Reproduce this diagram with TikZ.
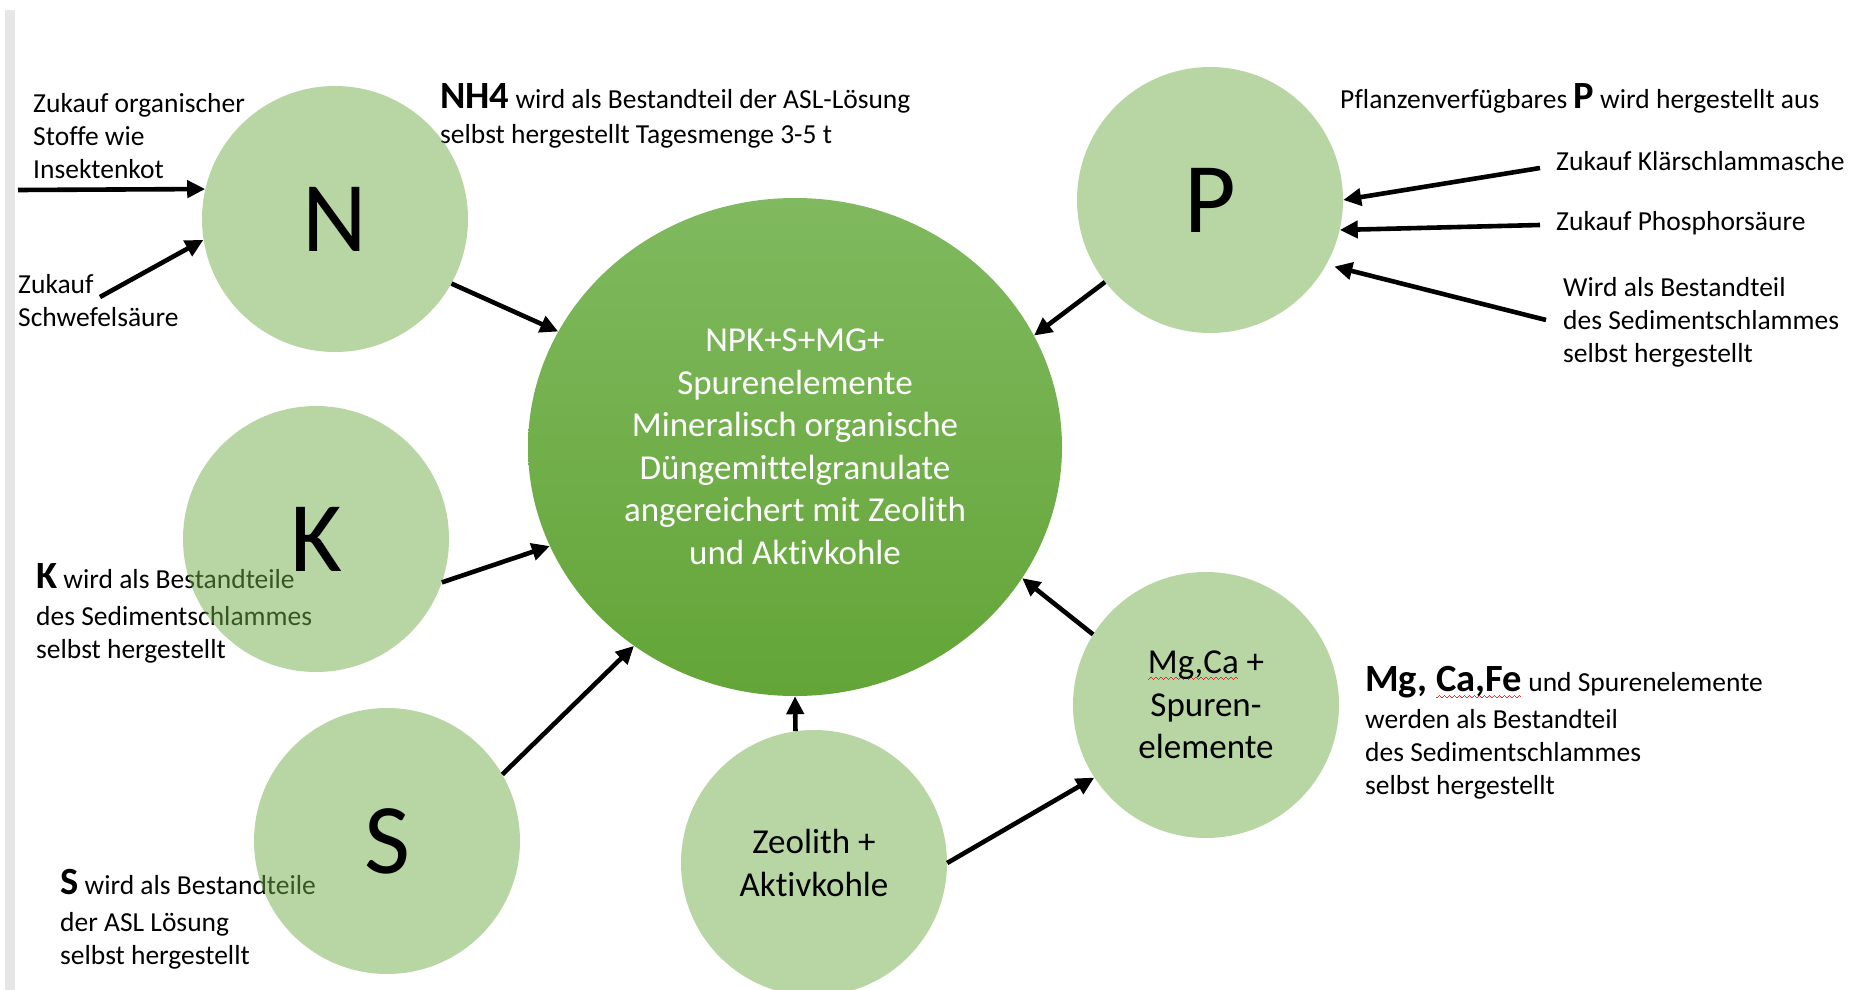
\documentclass[tikz,border=0pt]{standalone}
\usepackage{fontspec}
\setmainfont{Carlito}[Ligatures={NoCommon}]
\usetikzlibrary{arrows.meta,shapes.geometric}
\definecolor{cgreen}{HTML}{70AD47}
\definecolor{ctop}{HTML}{80B95F}
\definecolor{cbot}{HTML}{63A537}
\definecolor{cbar}{HTML}{E6E6E6}
\definecolor{cwave}{HTML}{E03030}
\newcommand\wavepiece{\rule[-6pt]{1.25pt}{1.1pt}\rule[-5pt]{1.25pt}{1.1pt}\rule[-4pt]{1.25pt}{1.1pt}\rule[-5pt]{1.25pt}{1.1pt}}
\newcommand\spellwave[1]{\setbox0\hbox{#1}\rlap{\smash{\color{cwave}\hbox to \wd0{\leaders\hbox{\wavepiece}\hfill}}}\box0\relax}
\newcommand\bigb[1]{{\fontsize{38.5}{44}\selectfont\bfseries #1}}
\begin{document}
\begin{tikzpicture}[x=1pt,y=-1pt,
  lbl/.style={font=\fontsize{27.5}{33}\selectfont, align=left, inner sep=0pt, anchor=west},
  smallc/.style={circle, minimum size=266pt, inner sep=0pt, fill=cgreen, fill opacity=0.5, text opacity=1},
  bigletter/.style={font=\fontsize{100}{100}\selectfont},
  ctext/.style={font=\fontsize{35}{42.5}\selectfont, align=center},
  arr/.style={line width=4.6pt, -{Triangle[length=18pt,width=17pt]}},
]
\useasboundingbox (0,0) rectangle (1858,990);
\fill[cbar] (5,10) rectangle (15,990);
% labels
\node[lbl] (tN1) at (33,136) {Zukauf organischer\\Stoffe wie\\Insektenkot};
\node[lbl] (tN2) at (18,301) {Zukauf\\Schwefelsäure};
\node[lbl] (tNH) at (440,116) {\bigb{NH4} wird als Bestandteil der ASL-Lösung\\[2.5pt]selbst hergestellt Tagesmenge 3-5 t};
\node[lbl] (tP0) at (1340,98) {Pflanzenverfügbares \bigb{P} wird hergestellt aus};
\node[lbl] (tP1) at (1556,161) {Zukauf Klärschlammasche};
\node[lbl] (tP2) at (1556,223) {Zukauf Phosphorsäure};
\node[lbl] (tP3) at (1563,322) {Wird als Bestandteil\\des Sedimentschlammes\\selbst hergestellt};
\node[lbl] (tK) at (36,613) {\bigb{K} wird als Bestandteile\\[4pt]des Sedimentschlammes\\selbst hergestellt};
\node[lbl] (tS) at (60,919) {\bigb{S} wird als Bestandteile\\[4pt]der ASL Lösung\\selbst hergestellt};
\node[lbl] (tM) at (1365,733) {\bigb{Mg, \spellwave{Ca,Fe}} und Spurenelemente\\[4pt]werden als Bestandteil\\des Sedimentschlammes\\selbst hergestellt};
% central
\node[ellipse, minimum width=534pt, minimum height=498pt, inner sep=0pt,
      top color=ctop, bottom color=cbot, text=white, ctext] (C) at (795,447)
  {NPK+S+MG+\\Spurenelemente\\Mineralisch organische\\Düngemittelgranulate\\angereichert mit Zeolith\\und Aktivkohle};
% small circles
\node[smallc, bigletter] (N) at (335,219) {\raisebox{-3pt}{N}};
\node[smallc, bigletter] (K) at (316,539) {\raisebox{-3pt}{K}};
\node[smallc, bigletter] (S) at (387,841) {\raisebox{-3pt}{S}};
\node[smallc, bigletter] (P) at (1210,200) {\raisebox{-3pt}{P}};
\node[smallc, ctext] (Z) at (814,863) {Zeolith +\\Aktivkohle};
\node[smallc, ctext] (M) at (1206,705) {\spellwave{Mg,Ca} +\\Spuren-\\elemente};
% free ends
\coordinate (s1) at (18,190);
\coordinate (s2) at (100,297);
\coordinate (s10) at (1540,168);
\coordinate (s11) at (1540,225);
\coordinate (s12) at (1546,320);
% arrows
\draw[arr] (s1) -- (N.167);
\draw[arr] (s2) -- (N.189);
\draw[arr] (N.-29.3) -- (C.154.6);
\draw[arr] (K.-19.8) -- (C.202.6);
\draw[arr] (S.30) -- (C.231.7);
\draw[arr] (Z.98.3) -- (C.south);
\draw[arr] (Z.east) -- (M.-147.5);
\draw[arr] (M.148.9) -- (C.-30.6);
\draw[arr] (P.-142.7) -- (C.25.6);
\draw[arr] (s10) -- (P.east);
\draw[arr] (s11) -- (P.-13);
\draw[arr, shorten >=8pt] (s12) -- (P.-29.5);
\end{tikzpicture}
\end{document}
